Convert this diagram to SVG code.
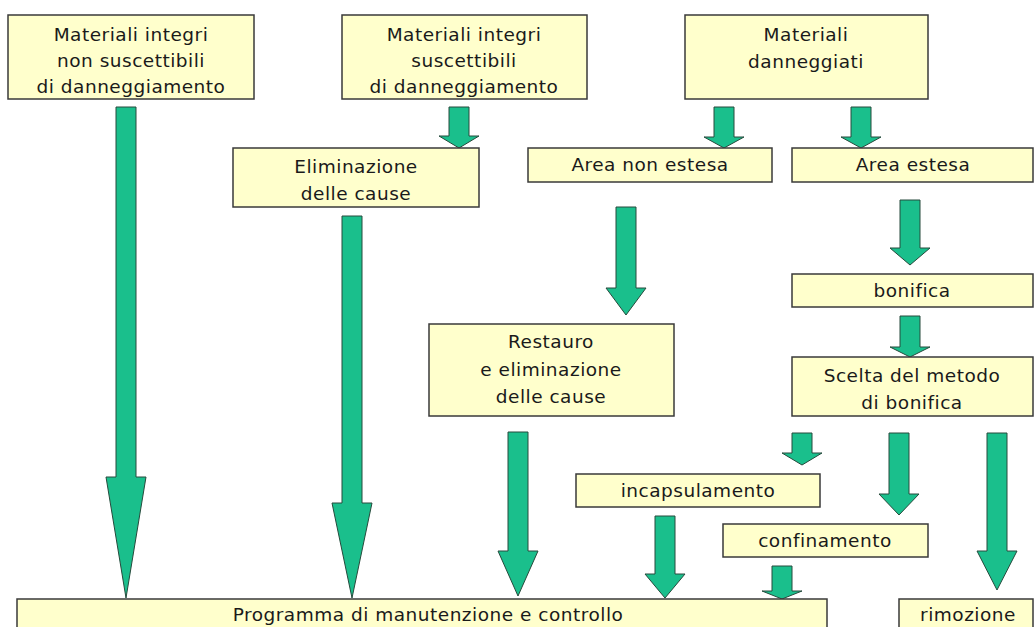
<svg xmlns="http://www.w3.org/2000/svg" width="1035" height="627" viewBox="0 0 1035 627">
<style>
.box{fill:#ffffcc;stroke:#3a3a3a;stroke-width:1.5}
.arr{fill:#1abf8c;stroke:#264a3c;stroke-width:1;stroke-linejoin:miter}
text{font-family:"DejaVu Sans","Liberation Sans",sans-serif;font-size:18.5px;fill:#1a1a1a;text-anchor:middle;letter-spacing:0.5px}
</style>
<rect width="1035" height="627" fill="#ffffff"/>
<g id="connectors">
<polygon class="arr" points="116,107 136,107 136,477 146,477 126,598 106,477 116,477"/>
<polygon class="arr" points="342,216 362,216 362,503 372,503 352,598 332,503 342,503"/>
<polygon class="arr" points="449,107 469,107 469,136 479,136 459,148 439,136 449,136"/>
<polygon class="arr" points="714,107 734,107 734,137 744,137 724,148 704,137 714,137"/>
<polygon class="arr" points="851,107 871,107 871,137 881,137 861,148 841,137 851,137"/>
<polygon class="arr" points="616,207 636,207 636,288 646,288 626,315 606,288 616,288"/>
<polygon class="arr" points="900,200 920,200 920,248 930,248 910,265 890,248 900,248"/>
<polygon class="arr" points="900,316 920,316 920,347 930,347 910,357 890,347 900,347"/>
<polygon class="arr" points="792,433 812,433 812,453 822,453 802,465 782,453 792,453"/>
<polygon class="arr" points="889,433 909,433 909,494 919,494 899,515 879,494 889,494"/>
<polygon class="arr" points="987,433 1007,433 1007,551 1017,551 997,590 977,551 987,551"/>
<polygon class="arr" points="508,432 528,432 528,551 538,551 518,596 498,551 508,551"/>
<polygon class="arr" points="655,516 675,516 675,574 685,574 665,598 645,574 655,574"/>
<polygon class="arr" points="772,566 792,566 792,591 802,591 782,599 762,591 772,591"/>
</g>
<g id="n1"><rect class="box" x="8" y="15" width="246" height="84"/><text x="131" y="41">Materiali integri</text><text x="131" y="67">non suscettibili</text><text x="131" y="93">di danneggiamento</text></g>
<g id="n2"><rect class="box" x="342" y="15" width="245" height="84"/><text x="464" y="41">Materiali integri</text><text x="464" y="67">suscettibili</text><text x="464" y="93">di danneggiamento</text></g>
<g id="n3"><rect class="box" x="685" y="15" width="243" height="84"/><text x="806" y="41">Materiali</text><text x="806" y="68">danneggiati</text></g>
<g id="n4"><rect class="box" x="233" y="148" width="246" height="59"/><text x="356" y="173">Eliminazione</text><text x="356" y="200">delle cause</text></g>
<g id="n5"><rect class="box" x="528" y="148" width="244" height="34"/><text x="650" y="171">Area non estesa</text></g>
<g id="n6"><rect class="box" x="792" y="148" width="241" height="34"/><text x="913" y="171">Area estesa</text></g>
<g id="n7"><rect class="box" x="792" y="274" width="241" height="33"/><text x="912" y="297">bonifica</text></g>
<g id="n8"><rect class="box" x="792" y="357" width="241" height="59"/><text x="912" y="382">Scelta del metodo</text><text x="912" y="409">di bonifica</text></g>
<g id="n9"><rect class="box" x="429" y="324" width="245" height="92"/><text x="551" y="348">Restauro</text><text x="551" y="376">e eliminazione</text><text x="551" y="403">delle cause</text></g>
<g id="n10"><rect class="box" x="576" y="474" width="244" height="33"/><text x="698" y="497">incapsulamento</text></g>
<g id="n11"><rect class="box" x="723" y="524" width="205" height="33"/><text x="825" y="547">confinamento</text></g>
<g id="n12"><rect class="box" x="17" y="599" width="810" height="40"/><text x="428" y="621">Programma di manutenzione e controllo</text></g>
<g id="n13"><rect class="box" x="899" y="599" width="134" height="40"/><text x="968" y="621">rimozione</text></g>
</svg>
